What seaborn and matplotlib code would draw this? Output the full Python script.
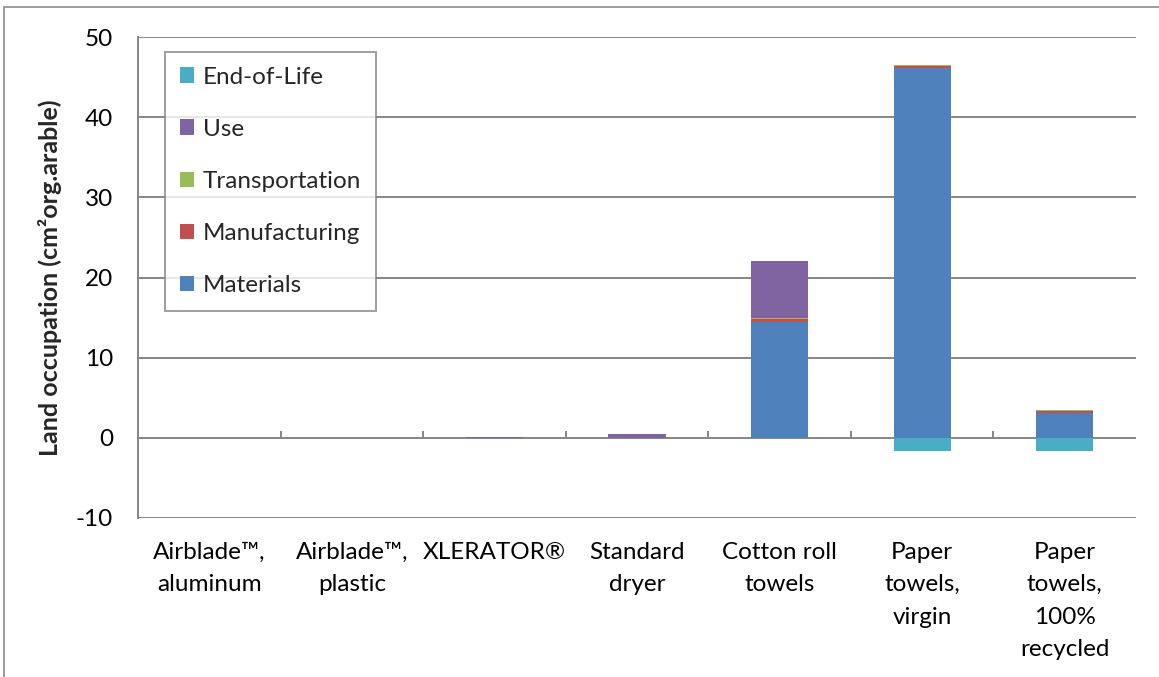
import matplotlib
matplotlib.use("Agg")
import matplotlib.pyplot as plt
import seaborn as sns
import numpy as np
import pandas as pd
from matplotlib.patches import Rectangle, Patch

categories = ["Airblade™,\naluminum", "Airblade™,\nplastic", "XLERATOR®", "Standard\ndryer",
              "Cotton roll\ntowels", "Paper\ntowels,\nvirgin", "Paper\ntowels,\n100%\nrecycled"]
materials      = [0.0, 0.0, 0.0, 0.0, 14.5, 46.1, 3.15]
manufacturing  = [0.01, 0.01, 0.02, 0.02, 0.30, 0.25, 0.25]
transportation = [0.005, 0.005, 0.005, 0.01, 0.15, 0.15, 0.10]
use            = [0.02, 0.02, 0.12, 0.45, 7.06, 0.0, 0.0]
end_of_life    = [0.0, 0.0, 0.0, 0.0, 0.0, -1.6, -1.6]
y_ticks = [-10, 0, 10, 20, 30, 40, 50]

colors = {"Materials": "#4F81BD", "Manufacturing": "#C0504D", "Transportation": "#9BBB59",
          "Use": "#8064A2", "End-of-Life": "#4BACC6"}

sns.set_theme(style="white")
plt.rcParams["font.family"] = ["Lato", "DejaVu Sans"]

fig = plt.figure(figsize=(11.59, 6.77), dpi=100)
ax = fig.add_axes([138/1159, 1-518/677, (1136-138)/1159, (518-37)/677])

grid_c = "#868686"
for y in y_ticks:
    ax.axhline(y, color=grid_c, lw=1.4, zorder=0)

df = pd.DataFrame({"cat": categories})
bottom = np.zeros(len(categories))
for name, vals in [("Materials", materials), ("Manufacturing", manufacturing),
                   ("Transportation", transportation), ("Use", use)]:
    v = np.array(vals)
    sns.barplot(x=df["cat"], y=v, bottom=bottom, color=colors[name], width=0.4,
                ax=ax, zorder=2, linewidth=0, saturation=1, errorbar=None)
    bottom = bottom + v
sns.barplot(x=df["cat"], y=np.array(end_of_life), color=colors["End-of-Life"], width=0.4,
            ax=ax, zorder=2, linewidth=0, saturation=1, errorbar=None)

# category boundary ticks on the zero line
bounds = np.arange(len(categories) - 1) + 0.5
ax.vlines(bounds, 0, 0.85, color=grid_c, lw=1.4, zorder=1)

fs = 17.5
ax.set_xlim(-0.5, len(categories) - 0.5)
ax.set_ylim(-10, 50)
ax.set_yticks(y_ticks)
ax.set_yticklabels([str(t) for t in y_ticks], fontsize=fs, color="black")
ax.tick_params(axis="y", length=0, pad=18)
ax.tick_params(axis="x", length=0, pad=17, labelsize=fs, colors="black")
ax.set_xticks(range(len(categories)))
ax.set_xticklabels(categories, fontsize=fs, linespacing=1.68, va="top")
ax.set_xlabel("")
ax.set_ylabel("Land occupation (cm²org.arable)", fontsize=18, fontweight="bold", labelpad=10)

for s in ["top", "right", "bottom"]:
    ax.spines[s].set_visible(False)
ax.spines["left"].set_color(grid_c)
ax.spines["left"].set_linewidth(1.4)

order = ["End-of-Life", "Use", "Transportation", "Manufacturing", "Materials"]
leg_handles = [Patch(facecolor=colors[n], edgecolor="none") for n in order]
leg = ax.legend(leg_handles, order, loc="upper left", bbox_to_anchor=(27/998, 1-15/481),
                fontsize=fs, frameon=True, fancybox=False, handlelength=0.6,
                handleheight=0.6, handletextpad=0.35, labelspacing=1.28,
                borderpad=0.6, borderaxespad=0)
leg.get_frame().set_edgecolor(grid_c)
leg.get_frame().set_linewidth(1.4)
leg.set_zorder(5)

fig.patches.append(Rectangle((4/1159, -0.05), 1.2, 1 - 7/677 + 0.05, transform=fig.transFigure,
                             fill=False, edgecolor="#8c8c8c", lw=1.2))

fig.savefig("out.png", dpi=100)
